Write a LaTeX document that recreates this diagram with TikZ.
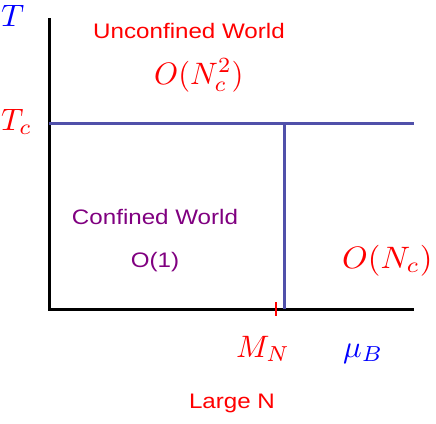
\documentclass[tikz,border=0pt]{standalone}
\usepackage{fontspec}
\setsansfont{Liberation Sans}
\newcommand{\hstretch}[2]{\scalebox{#1}[1]{#2}}
\newcommand{\mbig}[2]{\scalebox{#1}[3.1]{#2}}
\begin{document}
\begin{tikzpicture}[x=1pt,y=-1pt,
  axis/.style={line width=3pt,black},
  phase/.style={line width=3pt,color={rgb,255:red,80;green,80;blue,170}},
  wtext/.style={font=\sffamily\fontsize{21}{24}\selectfont,inner sep=0pt,anchor=center},
  mtext/.style={font=\fontsize{10}{12}\selectfont,inner sep=0pt,anchor=base west}]
\definecolor{myred}{RGB}{255,0,0}
\definecolor{myblue}{RGB}{0,0,255}
\definecolor{mypurple}{RGB}{128,0,128}
\useasboundingbox (0,0) rectangle (436,423);
\coordinate (top) at (49,18);
\coordinate (origin) at (49,309);
\coordinate (xend) at (414,309);
\coordinate (tcl) at (49,123);
\coordinate (tcr) at (414,123);
\coordinate (mtop) at (284,123);
\coordinate (mbot) at (284,309);
\coordinate (tk1) at (276,302);
\coordinate (tk2) at (276,316);
\draw[axis] (top) -- (origin) -- (xend);
\draw[phase] (tcl) -- (tcr);
\draw[phase] (mtop) -- (mbot);
\draw[line width=2.5pt,myred] (tk1) -- (tk2);
\node[mtext,myblue] (T) at (1,26) {\mbig{3.2}{$T$}};
\node[mtext,myred] (Tc) at (1,130) {\mbig{3.1}{$T_c$}};
\node[wtext,myred] (unc) at (189,31) {\hstretch{1.15}{Unconfined World}};
\node[mtext,myred] (onc2) at (154,84) {\mbig{3.05}{$O(N_c^2)$}};
\node[wtext,mypurple] (conf) at (155,217) {\hstretch{1.15}{Confined World}};
\node[wtext,mypurple] (o1) at (155,262) {\hstretch{1.15}{O(1)}};
\node[mtext,myred] (onc) at (342,268) {\mbig{3.25}{$O(N_c)$}};
\node[mtext,myred] (MN) at (236,357) {\mbig{3.1}{$M_N$}};
\node[mtext,myblue] (muB) at (343,357) {\mbig{3.1}{$\mu_B$}};
\node[wtext,myred] (large) at (232,403) {\hstretch{1.15}{Large N}};
\end{tikzpicture}
\end{document}
